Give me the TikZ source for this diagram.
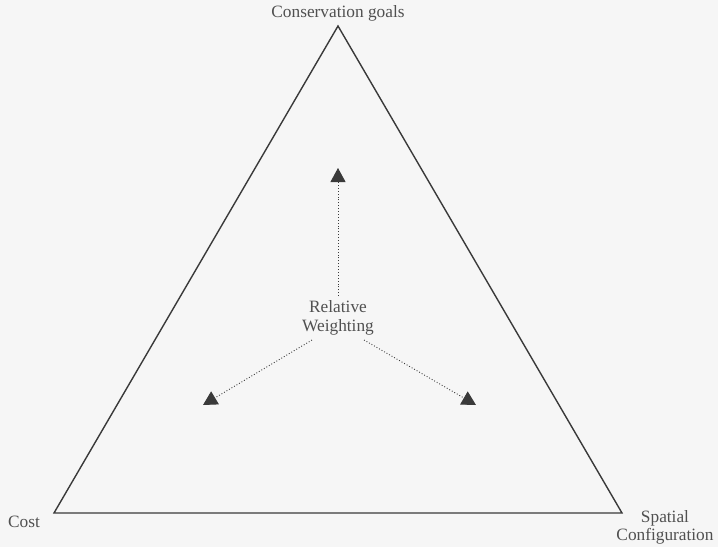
\documentclass[tikz,border=0pt]{standalone}
\usepackage{fontspec}
\setmainfont{Liberation Serif}
\usetikzlibrary{arrows.meta}
\definecolor{bg}{HTML}{F6F6F6}
\definecolor{edge}{HTML}{3A3A3A}
\definecolor{txt}{HTML}{505050}
\begin{document}
\begin{tikzpicture}[x=1pt,y=-1pt,
  lbl/.style={text=txt,font=\fontsize{17.3}{20}\selectfont,inner sep=0pt,align=center},
  weight/.style={draw=edge,line width=0.9pt,dotted,-{Triangle[length=14pt,width=15pt,fill=edge]}}]
\fill[bg] (0,0) rectangle (718,547);
\useasboundingbox (0,0) rectangle (718,547);
\coordinate (top) at (338,26);
\coordinate (bl) at (54,513);
\coordinate (br) at (622,513);
\draw[edge,line width=1.4pt,line join=miter] (top) -- (bl) -- (br) -- cycle;
\node[lbl] (goals) at (338,13) {Conservation goals};
\node[lbl,anchor=west] (cost) at (8,522) {Cost};
\node[lbl] (spatial) at (665,527) {Spatial\\[-2pt]Configuration};
\node[lbl] (rel) at (338,318) {Relative\\[-1pt]Weighting};
\coordinate (tU) at (338,168);
\coordinate (tL) at (203,405);
\coordinate (tR) at (476,405);
\coordinate (sU) at (338,296);
\coordinate (sL) at (312,340);
\coordinate (sR) at (364,340);
\draw[weight] (sU) -- (tU);
\draw[weight] (sL) -- (tL);
\draw[weight] (sR) -- (tR);
\end{tikzpicture}
\end{document}
